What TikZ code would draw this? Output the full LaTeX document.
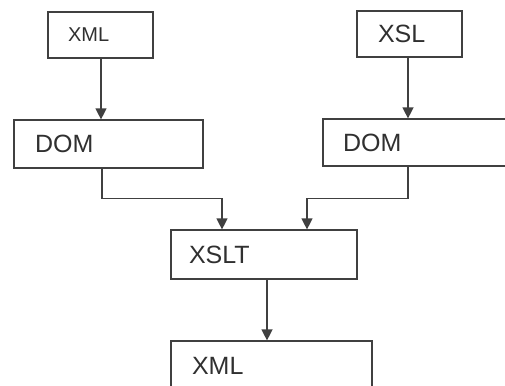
\documentclass[tikz,border=0pt]{standalone}
\usepackage{fontspec}
\setmainfont{Liberation Sans}
\usetikzlibrary{arrows.meta}
\definecolor{ink}{HTML}{404040}
\definecolor{txt}{HTML}{303030}
\tikzset{
  box/.style={draw=ink, line width=1.2pt, rectangle, text=txt, align=left,
    font=\fontsize{25}{28}\selectfont, inner ysep=0pt},
  arr/.style={draw=ink, line width=1.3pt, -{Triangle[width=11pt,length=11pt]}},
}
\begin{document}
\begin{tikzpicture}[x=1pt, y=-1pt]
\clip (0,0) rectangle (505,385);
\useasboundingbox (0,0) rectangle (505,385);
% boxes
\node[box, font=\fontsize{20}{22}\selectfont, minimum width=105, minimum height=46,
      inner xsep=20pt, text width=65pt] (xmlA) at (100.5,35) {XML};
\node[box, minimum width=105, minimum height=46,
      inner xsep=21pt, text width=63pt] (xsl) at (409.5,34) {XSL};
\node[box, minimum width=189, minimum height=48,
      inner xsep=21pt, text width=147pt] (domA) at (108.5,144) {DOM};
\node[box, minimum width=189, minimum height=47,
      inner xsep=20pt, text width=149pt] (domB) at (417.5,142.5) {DOM};
\node[box, minimum width=186, minimum height=49,
      inner xsep=18pt, text width=150pt] (xslt) at (264,254.5) {XSLT};
\node[box, minimum width=201, minimum height=49,
      inner xsep=21pt, text width=159pt] (xmlB) at (271.5,365.5) {XML};
% connector points
\coordinate (inL) at ([xshift=-42pt]xslt.north);
\coordinate (inR) at ([xshift=43pt]xslt.north);
\coordinate (outX) at ([xshift=3pt]xslt.south);
\coordinate (outL) at ([xshift=1.5pt]xmlA.south |- domA.south);
\coordinate (outR) at ([xshift=-1.5pt]xsl.south |- domB.south);
% connectors
\draw[arr] ([xshift=0.5pt]xmlA.south) -- ([xshift=0.5pt]xmlA.south |- domA.north);
\draw[arr] ([xshift=-1.5pt]xsl.south) -- ([xshift=-1.5pt]xsl.south |- domB.north);
\draw[arr] (outL) -- ++(0,30) -| (inL);
\draw[arr] (outR) -- ++(0,32) -| (inR);
\draw[arr] (outX) -- (outX |- xmlB.north);
\end{tikzpicture}
\end{document}
